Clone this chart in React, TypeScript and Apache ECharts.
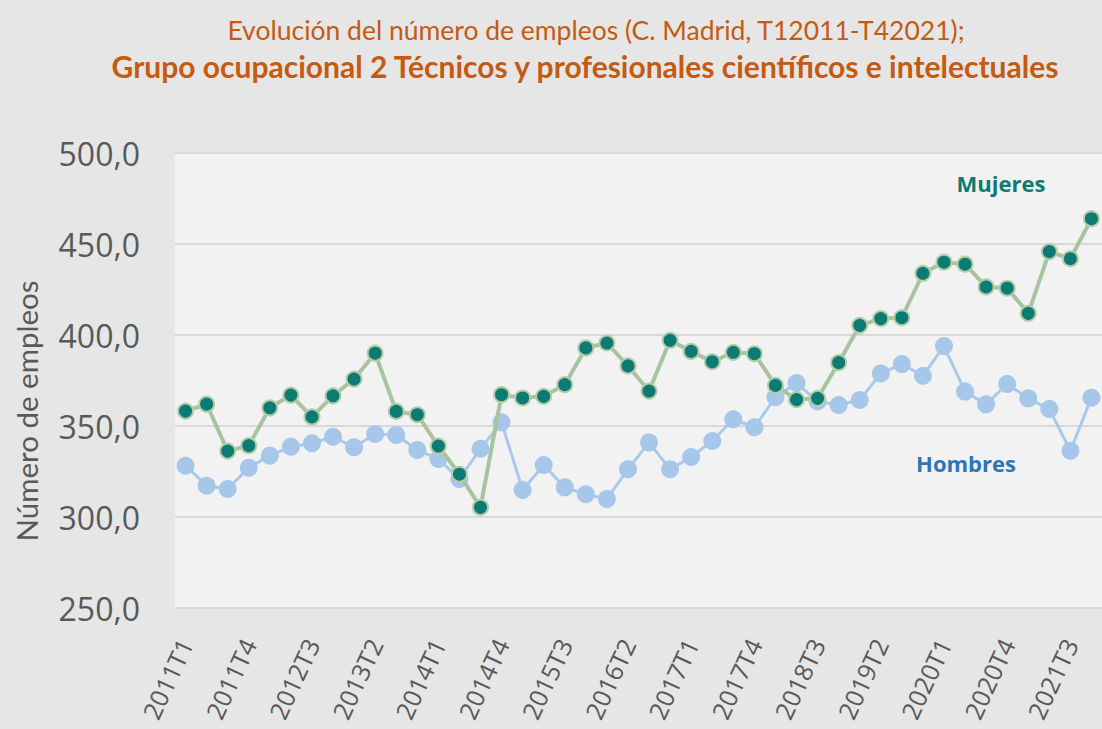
import React, { useEffect, useRef } from "react";
import * as echarts from "echarts";

const years = [2011, 2012, 2013, 2014, 2015, 2016, 2017, 2018, 2019, 2020, 2021];
const quarters = ["T1", "T2", "T3", "T4"];
const categories: string[] = [];
years.forEach((y) => quarters.forEach((q) => categories.push(`${y}${q}`)));

const mujeres = [
  358.2, 362.0, 336.2, 339.2, 360.0, 367.0, 355.0, 366.6, 375.8, 390.0,
  358.0, 356.2, 339.0, 323.5, 305.3, 367.2, 365.4, 366.3, 372.7, 392.9,
  395.6, 383.0, 369.2, 397.1, 391.0, 385.3, 390.5, 389.7, 372.3, 364.5,
  365.2, 384.8, 405.3, 409.0, 409.5, 433.9, 440.0, 438.9, 426.4, 425.7,
  411.9, 445.8, 441.9, 463.9,
];

const hombres = [
  328.2, 317.2, 315.4, 327.1, 333.7, 338.6, 340.5, 344.1, 338.3, 345.6,
  345.1, 336.8, 331.9, 320.9, 337.5, 352.0, 314.8, 328.6, 316.3, 312.5,
  309.9, 326.2, 341.0, 326.2, 333.0, 341.8, 353.7, 349.3, 365.8, 373.6,
  363.5, 361.5, 364.3, 378.9, 384.0, 377.6, 393.9, 368.9, 361.9, 373.1,
  365.2, 359.3, 336.4, 365.5,
];

const titleLine1 = "Evolución del número de empleos (C. Madrid, T12011-T42021);";
const titleLine2 = "Grupo ocupacional 2 Técnicos y profesionales científicos e intelectuales";
const yAxisName = "Número de empleos";

const FONT = "'Open Sans', 'Noto Sans', sans-serif";
const NARROW = "Lato, 'Open Sans', sans-serif";

export default function App() {
  const ref = useRef<HTMLDivElement>(null);
  useEffect(() => {
    if (!ref.current) return;
    const chart = echarts.init(ref.current, null, { renderer: "svg" });
    chart.setOption({
      animation: false,
      backgroundColor: "#e6e6e6",
      textStyle: { fontFamily: FONT },
      grid: {
        left: 175,
        top: 153,
        right: 0,
        bottom: 121,
        show: true,
        backgroundColor: "#f2f2f2",
        borderWidth: 0,
      },
      xAxis: {
        type: "category",
        data: categories,
        boundaryGap: true,
        axisLine: { show: false },
        axisTick: { show: false },
        axisLabel: {
          interval: 2,
          rotate: 65,
          margin: 32,
          fontSize: 25,
          color: "#595959",
          fontFamily: FONT,
        },
      },
      yAxis: {
        type: "value",
        min: 250,
        max: 500,
        interval: 50,
        axisLine: { show: false },
        axisTick: { show: false },
        splitLine: { lineStyle: { color: "#d9d9d9", width: 2 } },
        axisLabel: {
          margin: 35,
          fontSize: 32,
          color: "#595959",
          fontFamily: FONT,
          formatter: (v: number) => v.toFixed(1).replace(".", ","),
        },
      },
      graphic: [
        {
          type: "text",
          x: 596,
          y: 30,
          style: {
            text: titleLine1,
            fill: "#c55a11",
            font: `26.5px ${NARROW}`,
            textAlign: "center",
            textVerticalAlign: "middle",
          },
        },
        {
          type: "text",
          x: 585,
          y: 66,
          style: {
            text: titleLine2,
            fill: "#c55a11",
            font: `bold 30px ${NARROW}`,
            textAlign: "center",
            textVerticalAlign: "middle",
          },
        },
        {
          type: "text",
          x: 26,
          y: 411,
          rotation: Math.PI / 2,
          style: {
            text: yAxisName,
            fill: "#595959",
            font: `29.5px ${NARROW}`,
            textAlign: "center",
            textVerticalAlign: "middle",
          },
        },
        {
          type: "text",
          x: 1001,
          y: 183,
          style: {
            text: "Mujeres",
            fill: "#0d7b74",
            font: `bold 22px ${FONT}`,
            textAlign: "center",
            textVerticalAlign: "middle",
          },
        },
        {
          type: "text",
          x: 966,
          y: 463,
          style: {
            text: "Hombres",
            fill: "#2e75b6",
            font: `bold 22px ${FONT}`,
            textAlign: "center",
            textVerticalAlign: "middle",
          },
        },
      ],
      series: [
        {
          name: "Hombres",
          type: "line",
          data: hombres,
          symbol: "circle",
          symbolSize: 18,
          showAllSymbol: true,
          lineStyle: { color: "#a9c9ea", width: 3 },
          itemStyle: { color: "#a6c7ea", borderWidth: 0 },
          z: 2,
        },
        {
          name: "Mujeres",
          type: "line",
          data: mujeres,
          symbol: "circle",
          symbolSize: 15,
          showAllSymbol: true,
          lineStyle: { color: "#a8c49f", width: 4 },
          itemStyle: { color: "#0b7b74", borderColor: "#b4cca8", borderWidth: 2 },
          z: 3,
        },
      ],
    });
    return () => chart.dispose();
  }, []);
  return (
    <div
      ref={ref}
      style={{ position: "absolute", left: 0, top: 0, width: 1102, height: 729 }}
    />
  );
}
